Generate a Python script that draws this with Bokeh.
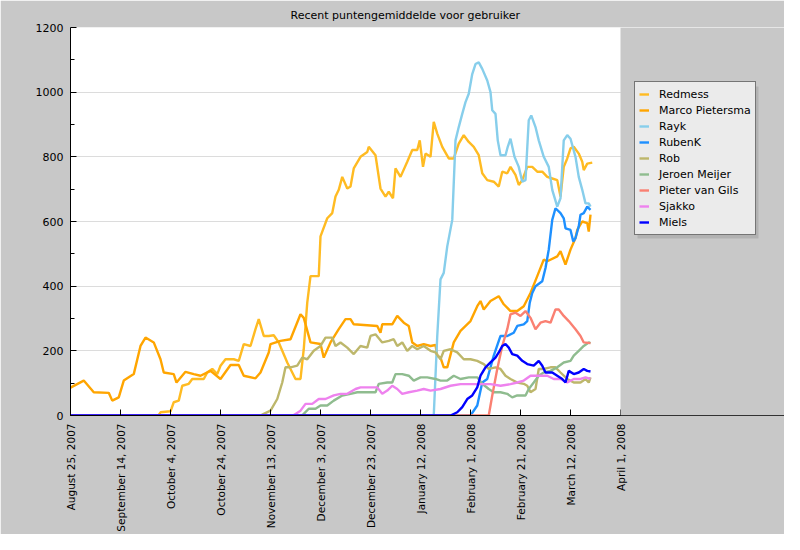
import datetime as dt
import pandas as pd
from bokeh.plotting import figure
from bokeh.models import (Legend, LegendItem, FixedTicker, Range1d,
                          BoxAnnotation)
from bokeh.embed import file_html
from bokeh.resources import INLINE

TITLE = "Recent puntengemiddelde voor gebruiker"
START = dt.datetime(2007, 8, 25)
END = dt.datetime(2008, 4, 1)

tick_dates = ["2007-08-25", "2007-09-14", "2007-10-04", "2007-10-24",
              "2007-11-13", "2007-12-03", "2007-12-23", "2008-01-12",
              "2008-02-01", "2008-02-21", "2008-03-12", "2008-04-01"]
tick_labels = ["August 25, 2007", "September 14, 2007", "October 4, 2007",
               "October 24, 2007", "November 13, 2007", "December 3, 2007",
               "December 23, 2007", "January 12, 2008", "February 1, 2008",
               "February 21, 2008", "March 12, 2008", "April 1, 2008"]
y_ticks = [0, 200, 400, 600, 800, 1000, 1200]

series_names = ["Redmess", "Marco Pietersma", "Rayk", "RubenK", "Rob",
                "Jeroen Meijer", "Pieter van Gils", "Sjakko", "Miels"]
series_colors = ["#FFBB22", "#FFA500", "#87CEEB", "#1E90FF", "#BDB76B",
                 "#8FBC8F", "#FA8072", "#EE82EE", "#0000FF"]

# days since August 25, 2007 and recent average values
redmess_days = [0, 35.2, 36, 40, 41.3, 43.3, 44.7, 47.3, 48.7, 53.3,
                54.7, 56.7, 58.7, 60, 62, 65.3, 67.3, 69.3, 72, 74,
                75.3, 77.3, 79.3, 81.3, 83.3, 86.7, 90, 92, 93.3, 94.7,
                96, 99.3, 100, 102.7, 104.7, 106, 107.3, 108.7, 110.7, 112,
                113.3, 116, 118.7, 119.3, 122, 124, 126, 127.3, 129, 130,
                132, 134.7, 136.7, 138.7, 139.7, 141, 142, 144, 145.3, 146.7,
                148.7, 151.3, 153.3, 155.3, 157.3, 159.3, 161.3, 163.3, 164.7, 166.7,
                169.3, 171.3, 172.7, 174.7, 176, 178, 179.3, 180.7, 182.7, 184.7,
                186.7, 188.7, 190.7, 192.7, 194.7, 196, 197.3, 198.7, 200, 201.3,
                203.3, 204.7, 205.3, 206.7, 208.7]
redmess_vals = [0, 0, 10, 13, 41, 46, 92, 98, 113, 113,
                133, 144, 128, 154, 174, 174, 169, 221, 215, 267,
                298, 246, 246, 248, 226, 164, 113, 113, 205, 349,
                431, 431, 554, 610, 626, 677, 698, 738, 702, 708,
                764, 800, 815, 831, 805, 702, 677, 692, 672, 764,
                738, 785, 821, 821, 851, 769, 810, 800, 908, 872,
                831, 795, 795, 841, 867, 846, 831, 805, 749, 728,
                723, 708, 754, 749, 769, 744, 713, 728, 769, 769,
                754, 754, 738, 733, 728, 677, 769, 795, 826, 831,
                810, 785, 759, 779, 782]

marco_days = [0, 5.3, 9.3, 15.3, 16.7, 19.3, 21.3, 25.3, 28, 30,
              33.3, 36, 37.3, 41.3, 42.4, 46, 49.3, 52, 56, 60,
              64, 67.3, 69.3, 74, 76, 79.3, 80, 84, 88, 92,
              93.3, 96, 100, 101.3, 104, 107.3, 110, 112, 113.3, 122.7,
              124, 124.7, 128.7, 130.7, 133.3, 135.3, 136.7, 138.7, 141.3, 144,
              146, 146.7, 148, 149.3, 150.7, 153.3, 156, 160, 162.7, 164,
              165.3, 168, 171.3, 173.3, 176, 178.7, 181.3, 184, 186.7, 189.3,
              190.7, 194.7, 196, 198, 200, 202, 202.7, 204.7, 206.7, 207.3,
              208]
marco_vals = [86, 108, 72, 70, 46, 56, 108, 128, 215, 241,
              226, 174, 133, 128, 102, 135, 128, 123, 138, 113,
              156, 156, 123, 115, 133, 195, 221, 231, 236, 313,
              302, 226, 221, 179, 226, 267, 298, 298, 282, 277,
              256, 282, 282, 308, 287, 277, 226, 215, 221, 215,
              218, 185, 179, 149, 149, 226, 262, 292, 338, 354,
              328, 354, 369, 344, 323, 323, 338, 379, 431, 482,
              477, 492, 508, 467, 513, 549, 574, 600, 595, 569,
              621]

rayk_days = [0, 145.3, 146.7, 148, 149.3, 150.7, 152.7, 154, 155.3, 156.7,
             158, 159.3, 160.7, 162, 163.3, 164.7, 166.7, 168, 168.7, 170,
             170.9, 172, 174, 174.9, 176, 177.6, 179.3, 180.7, 182, 183.3,
             184.3, 186, 187.3, 189.3, 191.3, 192.7, 194.7, 196, 197.3, 198.7,
             200, 202, 203.3, 204.7, 206, 207.3, 208]
rayk_vals = [0, 0, 246, 421, 441, 523, 605, 851, 892, 933,
             969, 995, 1056, 1087, 1092, 1072, 1036, 1000, 944, 933,
             851, 805, 805, 831, 856, 800, 769, 723, 728, 913,
             928, 892, 851, 800, 769, 698, 646, 672, 851, 867,
             856, 800, 738, 698, 656, 656, 646]

rubenk_days = [0, 160, 162.7, 164.7, 166.7, 169.3, 172, 174.7, 177.3, 178.7,
               181.3, 182.7, 183.7, 184.7, 186, 188.7, 190, 191.3, 192.7, 194,
               196, 197.3, 198, 200, 201.1, 202, 203.3, 204, 205.3, 206.7,
               208]
rubenk_vals = [0, 0, 31, 102, 113, 185, 246, 246, 256, 277,
               282, 292, 349, 379, 400, 415, 456, 513, 605, 641,
               626, 610, 579, 574, 538, 549, 585, 621, 626, 646,
               636]

rob_days = [0, 76, 77.3, 80, 82.7, 84.7, 86, 88, 90.7, 92.7,
            94.7, 97.3, 100, 102, 104.7, 106, 108, 110.7, 113.3, 116,
            118.7, 120, 122, 124.7, 127.3, 129.3, 130.7, 132.7, 134.7, 136.7,
            138.7, 141.3, 144, 146, 148, 149.3, 152, 154.7, 157.3, 160,
            162.7, 165.3, 167.3, 170, 172, 174, 176, 178.7, 181.3, 182.7,
            184, 186, 187.3, 189.3, 192, 194, 196, 198.7, 201.3, 204,
            206, 207.3, 208]
rob_vals = [0, 0, 5, 15, 51, 102, 149, 149, 154, 179,
            174, 200, 215, 241, 241, 215, 226, 210, 190, 215,
            210, 246, 251, 226, 231, 236, 215, 226, 200, 215,
            205, 215, 200, 195, 174, 200, 205, 195, 174, 174,
            169, 159, 144, 149, 144, 123, 113, 102, 98, 92,
            72, 82, 144, 144, 149, 149, 133, 113, 102, 102,
            113, 102, 118]

jeroen_days = [0, 92.5, 93.3, 95.3, 98, 100, 102.7, 105.3, 108.7, 112,
               114.7, 118.7, 122, 123.3, 126.7, 128.7, 130, 132.7, 135.3, 137.3,
               140, 142.7, 146, 148, 150.7, 153.3, 156, 159.3, 162.7, 164.7,
               167.3, 169.3, 172, 174.7, 176.7, 178.7, 182, 183.3, 185.3, 187.3,
               189.3, 192, 194.7, 197.3, 200, 201.3, 203.3, 205.3, 207.3, 208]
jeroen_vals = [0, 0, 5, 21, 21, 31, 31, 46, 62, 67,
               72, 72, 72, 98, 102, 102, 128, 128, 123, 108,
               118, 118, 113, 108, 108, 123, 113, 118, 118, 98,
               82, 72, 72, 67, 56, 62, 62, 82, 102, 123,
               133, 138, 149, 164, 169, 185, 200, 215, 226, 224]

pieter_days = [0, 167.3, 168.7, 170.7, 172.7, 174.7, 176, 178, 180, 182,
               184, 186, 188, 190, 192, 194, 195.3, 197.3, 199.3, 202,
               204, 205.3, 208]
pieter_vals = [0, 0, 62, 144, 215, 267, 313, 318, 308, 323,
               302, 267, 287, 292, 287, 328, 328, 308, 292, 267,
               246, 226, 224]

sjakko_days = [0, 89, 90, 92, 94, 96.7, 99.3, 102, 105.3, 108,
               110.7, 114, 116, 120, 122.7, 124.7, 126.7, 128.7, 130.7, 132.7,
               135.3, 138.7, 141.3, 144, 148, 152, 156, 160, 164, 168,
               172, 176, 178.7, 181.3, 184, 186.7, 190.7, 193.3, 196, 198.7,
               201.3, 204, 206, 208]
sjakko_vals = [0, 0, 5, 15, 36, 36, 51, 51, 62, 67,
               67, 82, 87, 87, 87, 67, 77, 92, 82, 67,
               72, 77, 82, 77, 82, 92, 97, 97, 97, 97,
               92, 97, 102, 108, 123, 123, 123, 113, 113, 102,
               113, 113, 118, 113]

miels_days = [0, 152, 154.7, 156.7, 158.7, 160.7, 162.7, 164, 166, 168,
              170, 171.3, 172.7, 174, 175.3, 176.7, 178.7, 180.7, 182.7, 185.3,
              187.3, 188.7, 190, 192.7, 194.7, 196.7, 198, 199.3, 201.3, 203.3,
              205.3, 206.7, 208]
miels_vals = [0, 0, 10, 26, 51, 62, 87, 123, 149, 164,
              179, 195, 215, 221, 210, 190, 185, 169, 159, 154,
              169, 154, 133, 133, 123, 113, 102, 138, 128, 133,
              144, 138, 136]

series_days = [redmess_days, marco_days, rayk_days, rubenk_days, rob_days,
               jeroen_days, pieter_days, sjakko_days, miels_days]
series_vals = [redmess_vals, marco_vals, rayk_vals, rubenk_vals, rob_vals,
               jeroen_vals, pieter_vals, sjakko_vals, miels_vals]

FONT = "DejaVu Sans"
BG = "#c8c8c8"

# The frame is extended to the right edge so that the legend (drawn inside
# the frame) is not clipped; the part after the last date is covered in grey.
PLOT_W = 550          # pixels used by the date axis
FRAME_W = 714         # full frame width
view_end = START + (END - START) * (FRAME_W / PLOT_W)

p = figure(frame_width=FRAME_W, frame_height=388, x_axis_type="datetime",
           output_backend="svg", toolbar_location=None,
           x_range=Range1d(START, view_end), y_range=Range1d(0, 1200),
           min_border_left=70, min_border_right=0,
           min_border_top=27, min_border_bottom=119)
p.border_fill_color = BG
p.background_fill_color = "white"
p.outline_line_color = None

p.title.text = TITLE
p.title.text_font = FONT
p.title.text_font_size = "11px"
p.title.text_font_style = "normal"
p.title.text_color = "black"
p.title.align = "left"
p.title.offset = 220
p.title.standoff = 11

renderers = []
for name, color, days, vals in zip(series_names, series_colors,
                                   series_days, series_vals):
    xs = [START + dt.timedelta(days=d) for d in days]
    r = p.line(xs, vals, line_color=color, line_width=2.4)
    renderers.append(r)

# axes
tick_ms = [int(pd.Timestamp(t).value // 10**6) for t in tick_dates]
xa = p.xaxis[0]
xa.ticker = FixedTicker(ticks=tick_ms)
xa.major_label_overrides = {ms: lab for ms, lab in zip(tick_ms, tick_labels)}
xa.major_label_orientation = 1.5707963267948966
xa.major_label_text_font = FONT
xa.major_label_text_font_size = "10.5px"
xa.major_label_text_color = "black"
xa.major_label_standoff = 8
xa.major_tick_in = 6
xa.major_tick_out = 0
xa.minor_tick_line_color = None
xa.axis_line_color = "black"
xa.major_tick_line_color = "black"

ya = p.yaxis[0]
ya.ticker = FixedTicker(ticks=y_ticks, minor_ticks=list(range(100, 1200, 200)))
ya.major_label_text_font = FONT
ya.major_label_text_font_size = "11px"
ya.major_label_text_color = "black"
ya.major_label_standoff = 7
ya.major_tick_in = 6
ya.major_tick_out = 0
ya.minor_tick_in = 4
ya.minor_tick_out = 0
ya.minor_tick_line_color = "black"
ya.axis_line_color = "black"
ya.major_tick_line_color = "black"

p.xgrid.grid_line_color = None
p.ygrid.grid_line_color = "#dcdcdc"
p.ygrid.grid_line_width = 1

# grey cover for the area right of the date axis
p.add_layout(BoxAnnotation(left=END, fill_color=BG, fill_alpha=1,
                           line_color=None, level="annotation"))

# legend shadow and legend
LEG_X, LEG_Y, LEG_W, LEG_H = 564, 180, 121, 152
p.add_layout(BoxAnnotation(left=LEG_X + 3, right=LEG_X + LEG_W + 3,
                           bottom=LEG_Y - 3, top=LEG_Y + LEG_H - 3,
                           left_units="screen", right_units="screen",
                           bottom_units="screen", top_units="screen",
                           fill_color="#b2b2b2", fill_alpha=1,
                           line_color=None))
legend = Legend(items=[LegendItem(label=n, renderers=[r])
                       for n, r in zip(series_names, renderers)],
                location=(LEG_X, LEG_Y))
legend.label_text_font = FONT
legend.label_text_font_size = "11px"
legend.label_text_color = "black"
legend.glyph_width = 10
legend.glyph_height = 16
legend.label_height = 16
legend.label_standoff = 10
legend.spacing = 0
legend.padding = 4
legend.border_line_color = "black"
legend.border_line_width = 1
legend.background_fill_color = "#ebebeb"
legend.background_fill_alpha = 1
p.add_layout(legend)

open("out.html", "w").write(file_html(p, INLINE))
